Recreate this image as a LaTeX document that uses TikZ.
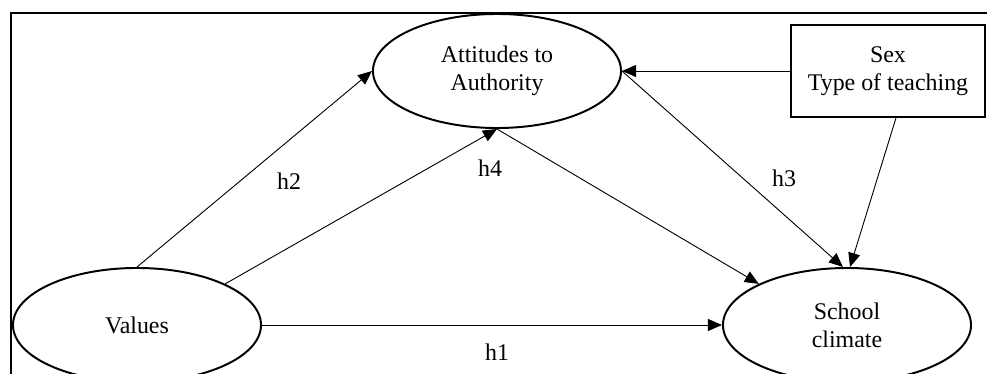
\documentclass[tikz,border=0pt]{standalone}
\usepackage{fontspec}
\setmainfont{Liberation Serif}
\usepackage{tikz}
\usetikzlibrary{shapes.geometric,arrows.meta}

\begin{document}
\begin{tikzpicture}[x=0.025cm, y=-0.025cm,
  construct/.style={ellipse, draw, line width=1.4pt, minimum width=6.2cm, minimum height=2.85cm, align=center, font=\fontsize{17}{20}\selectfont},
  factorbox/.style={rectangle, draw, line width=1.2pt, minimum width=4.85cm, minimum height=2.3cm, align=center, font=\fontsize{17}{20}\selectfont},
  path/.style={-{Triangle[length=10pt,width=8.5pt]}, line width=0.65pt},
  hyp/.style={font=\fontsize{17}{20}\selectfont}]
\clip (0, 0) rectangle (987, 374);
\draw [line width=1.2pt] (11, 500) -- (11, 13) -- (1100, 13);

\node [construct] (values) at (137, 325) {Values};
\node [construct] (climate) at (847, 325) {School\\climate};
\node [construct] (attitudes) at (497, 71) {Attitudes to\\Authority};
\node [factorbox] (sexbox) at (888, 71) {Sex\\Type of teaching};

\draw [path] (values.north) -- (attitudes.west);
\draw [path] (values.25) -- (attitudes.south);
\draw [path] (values.east) -- (climate.west);
\draw [path] (attitudes.south) -- (climate.155);
\draw [path] (sexbox.west) -- (attitudes.east);
\draw [path] (attitudes.east) -- (climate.94);
\draw [path] ([xshift=0.2cm]sexbox.south) -- (climate.87);

\node [hyp] (h2) at (289, 181) {h2};
\node [hyp] (h4) at (490, 168) {h4};
\node [hyp] (h3) at (784, 178) {h3};
\node [hyp] (h1) at (497, 352) {h1};
\end{tikzpicture}
\end{document}
